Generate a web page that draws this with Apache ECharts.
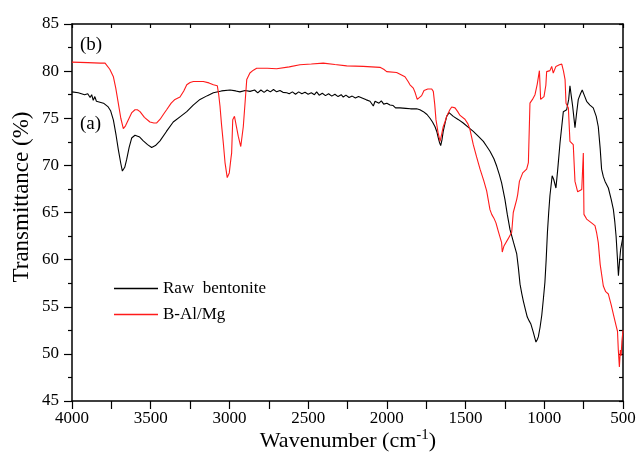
<!DOCTYPE html>
<html>
<head>
<meta charset="utf-8">
<script src="https://cdn.jsdelivr.net/npm/echarts@6/dist/echarts.min.js"></script>
<style>html,body{margin:0;padding:0;background:#fff}#c{width:640px;height:456px}</style>
</head>
<body>
<div id="c"></div>
<script>
// Raw bentonite (a)
var rawWn = [4000,3960,3920,3900,3885,3875,3865,3855,3845,3835,3800,3770,3755,3737,3720,3706,3690,3680,3665,3653,3637,3621,3600,3589,3570,3547,3520,3494,3470,3441,3400,3357,3310,3271,3230,3187,3140,3102,3050,2996,2960,2933,2900,2869,2840,2820,2800,2780,2760,2740,2720,2700,2679,2660,2636,2620,2600,2580,2560,2540,2520,2500,2480,2460,2446,2430,2410,2390,2370,2350,2330,2310,2290,2277,2260,2240,2220,2200,2180,2171,2150,2130,2107,2095,2086,2075,2065,2050,2035,2020,2000,1980,1960,1945,1935,1917,1880,1850,1811,1790,1768,1745,1726,1710,1694,1683,1673,1665,1658,1650,1642,1630,1620,1605,1578,1545,1515,1480,1451,1420,1387,1365,1345,1320,1302,1285,1271,1250,1235,1218,1195,1175,1165,1154,1143,1133,1120,1108,1096,1086,1070,1053,1045,1038,1027,1016,1006,996,988,980,972,964,950,940,926,915,900,879,858,845,837,828,820,805,795,784,770,759,745,731,710,689,670,657,645,636,625,614,593,575,561,552,544,536,529,522,515,505,500];
var rawT = [77.8,77.7,77.5,77.6,77.2,77.5,76.9,77.3,76.8,77.0,76.6,76.2,75.8,74.8,73.2,71.7,70.2,69.4,69.8,70.6,71.9,72.9,73.2,73.3,73.0,72.6,72.2,71.9,72.1,72.6,73.6,74.6,75.2,75.7,76.4,77.0,77.4,77.7,77.9,78.0,77.9,77.8,77.95,77.85,78.0,77.7,78.0,77.75,78.0,77.8,78.05,77.8,77.95,77.75,77.7,77.6,77.8,77.55,77.8,77.6,77.75,77.55,77.7,77.5,77.8,77.45,77.65,77.4,77.6,77.35,77.55,77.3,77.5,77.25,77.45,77.2,77.35,77.15,77.3,77.15,77.1,76.95,76.8,76.9,76.3,76.8,76.9,76.6,76.85,76.5,76.6,76.4,76.35,76.1,76.3,76.1,76.05,76.0,76.0,75.9,75.7,75.4,75.0,74.6,74.1,73.6,72.9,72.4,72.1,72.7,73.6,74.5,75.2,75.6,75.2,74.85,74.5,74.0,73.6,73.1,72.55,72.0,71.5,70.7,69.9,69.0,68.15,66.4,64.8,63.2,61.8,60.6,59.2,57.4,56.4,55.6,54.7,53.9,53.5,53.2,52.3,51.25,51.5,51.8,52.8,54.1,55.8,57.6,60.0,62.9,65.0,66.8,68.9,68.5,67.6,69.5,72.4,75.7,75.9,77.0,78.45,77.3,76.3,74.0,75.5,77.0,77.6,78.0,77.4,76.8,76.4,76.1,75.2,74.1,71.8,69.6,68.8,68.3,67.6,66.4,65.3,64.0,62.5,60.3,58.3,59.8,61.1,62.0,62.5];

// B-Al/Mg (b)
var balWn = [4000,3900,3820,3790,3760,3737,3722,3706,3690,3674,3660,3642,3620,3600,3585,3568,3540,3505,3480,3462,3440,3420,3399,3370,3346,3314,3290,3271,3250,3229,3166,3130,3102,3077,3068,3060,3050,3039,3028,3014,3001,2990,2986,2979,2968,2958,2944,2928,2912,2900,2890,2870,2848,2827,2760,2700,2620,2552,2480,2404,2330,2255,2150,2044,2020,2001,1938,1885,1865,1853,1832,1820,1807,1795,1779,1764,1740,1715,1705,1696,1688,1675,1662,1652,1642,1631,1620,1600,1588,1567,1550,1535,1504,1485,1472,1451,1430,1408,1385,1366,1345,1334,1320,1307,1292,1271,1267,1256,1230,1207,1197,1175,1169,1158,1137,1112,1101,1091,1075,1059,1045,1031,1023,1002,990,985,964,953,943,926,904,889,878,868,862,847,837,816,805,788,762,752,748,731,700,678,667,657,645,625,610,593,575,561,544,535,530,523,517,512,507,503,500];
var balT = [80.95,80.9,80.85,80.85,80.2,79.4,78.2,76.6,75.0,73.9,74.2,74.85,75.6,75.9,75.9,75.7,75.1,74.6,74.5,74.5,74.9,75.4,75.9,76.6,77.0,77.25,77.9,78.55,78.8,78.9,78.9,78.75,78.55,78.45,77.5,76.3,74.3,72.4,70.3,68.7,69.2,70.8,71.3,74.85,75.2,75.2,73.1,72.0,74.1,76.8,79.1,79.8,80.1,80.3,80.3,80.25,80.45,80.67,80.75,80.85,80.7,80.56,80.5,80.4,80.2,79.95,79.85,79.4,78.9,78.55,78.2,77.7,77.0,77.2,77.4,77.95,78.1,78.1,77.85,76.5,74.85,73.5,72.55,73.3,74.1,74.6,75.2,75.9,76.2,76.1,75.7,75.3,74.9,74.4,73.8,72.2,70.9,69.6,68.4,67.3,65.3,64.8,64.4,63.9,63.0,61.8,60.8,61.45,62.2,62.9,65.0,66.4,66.9,68.3,69.2,69.6,70.3,76.6,77.0,77.5,78.6,80.05,77.0,77.3,78.5,79.95,80.05,80.5,79.8,80.5,80.67,80.74,80.0,79.1,76.6,76.1,72.55,72.2,68.3,67.2,67.45,71.3,64.8,64.3,63.9,63.6,62.8,61.8,59.5,57.2,56.6,56.35,55.2,54.2,53.0,52.4,50.5,48.6,50.4,49.8,51.3,52.0,52.5];

var seriesNames = ['Raw  bentonite', 'B-Al/Mg'];
var xLabels = [4000,3500,3000,2500,2000,1500,1000,500];
var yLabels = [45,50,55,60,65,70,75,80,85];

function zip(a, b) { var r = []; for (var i = 0; i < a.length; i++) r.push([a[i], b[i]]); return r; }

var FONT = 'Liberation Serif';
var chart = echarts.init(document.getElementById('c'), null, {renderer: 'canvas'});
var lineAxis = {show: true, lineStyle: {color: '#000', width: 1.5}};
chart.setOption({
  animation: false,
  backgroundColor: '#fff',
  grid: {left: 72, right: 17, top: 24, bottom: 55, containLabel: false, outerBoundsMode: 'none'},
  xAxis: [{
    type: 'value', inverse: true, min: 500, max: 4000, interval: 250, position: 'bottom',
    axisLine: lineAxis,
    axisTick: {show: true, inside: false, length: 8, lineStyle: {color: '#000', width: 1.2}},
    axisLabel: {show: true, margin: 9, color: '#000', fontFamily: FONT, fontSize: 17,
      formatter: function (v) { return xLabels.indexOf(v) >= 0 ? String(v) : ''; }},
    splitLine: {show: false}
  }, {
    type: 'value', inverse: true, min: 500, max: 4000, interval: 250, position: 'top',
    axisLine: lineAxis,
    axisTick: {show: true, inside: true, length: 4, lineStyle: {color: '#000', width: 1.2}},
    axisLabel: {show: false}, splitLine: {show: false}
  }],
  yAxis: [{
    type: 'value', min: 45, max: 85, interval: 5, position: 'left',
    axisLine: lineAxis,
    axisTick: {show: true, inside: false, length: 8, lineStyle: {color: '#000', width: 1.2}},
    minorTick: {show: true, splitNumber: 2, length: 4, lineStyle: {color: '#000', width: 1.2}},
    axisLabel: {show: true, margin: 13, color: '#000', fontFamily: FONT, fontSize: 17,
      formatter: function (v) { return yLabels.indexOf(v) >= 0 ? String(v) : ''; }},
    splitLine: {show: false}
  }, {
    type: 'value', min: 45, max: 85, interval: 2.5, position: 'right',
    axisLine: lineAxis,
    axisTick: {show: true, inside: true, length: 4, lineStyle: {color: '#000', width: 1.2}},
    axisLabel: {show: false}, splitLine: {show: false}
  }],
  legend: {
    orient: 'vertical', left: 114, top: 280, padding: 0, icon: 'rect',
    itemWidth: 44, itemHeight: 1.3, itemGap: 9,
    textStyle: {fontFamily: FONT, fontSize: 17, color: '#000', padding: [0, 0, 0, 0]},
    data: seriesNames
  },
  series: [{
    name: seriesNames[0], type: 'line', xAxisIndex: 0, yAxisIndex: 0,
    data: zip(rawWn, rawT), symbol: 'none', lineStyle: {color: '#000', width: 1.1}, itemStyle: {color: '#000'}
  }, {
    name: seriesNames[1], type: 'line', xAxisIndex: 0, yAxisIndex: 0,
    data: zip(balWn, balT), symbol: 'none', lineStyle: {color: '#ff1a1a', width: 1.1}, itemStyle: {color: '#ff1a1a'}
  }],
  graphic: [
    {type: 'text', left: 80, top: 36, style: {text: '(b)', fontFamily: FONT, fontSize: 19, fill: '#000'}},
    {type: 'text', left: 80, top: 115, style: {text: '(a)', fontFamily: FONT, fontSize: 19, fill: '#000'}},
    {type: 'text', x: 348, y: 441, style: {
      text: 'Wavenumber (cm{sup|-1})', fontFamily: FONT, fontSize: 22, fill: '#000',
      align: 'center', verticalAlign: 'middle',
      rich: {sup: {fontFamily: FONT, fontSize: 15, fill: '#000', padding: [0, 0, 12, 0]}}
    }},
    {type: 'text', x: 22, y: 197, rotation: Math.PI / 2, style: {
      text: 'Transmittance (%)', fontFamily: FONT, fontSize: 23, fill: '#000',
      align: 'center', verticalAlign: 'middle'
    }}
  ]
});
</script>
</body>
</html>
